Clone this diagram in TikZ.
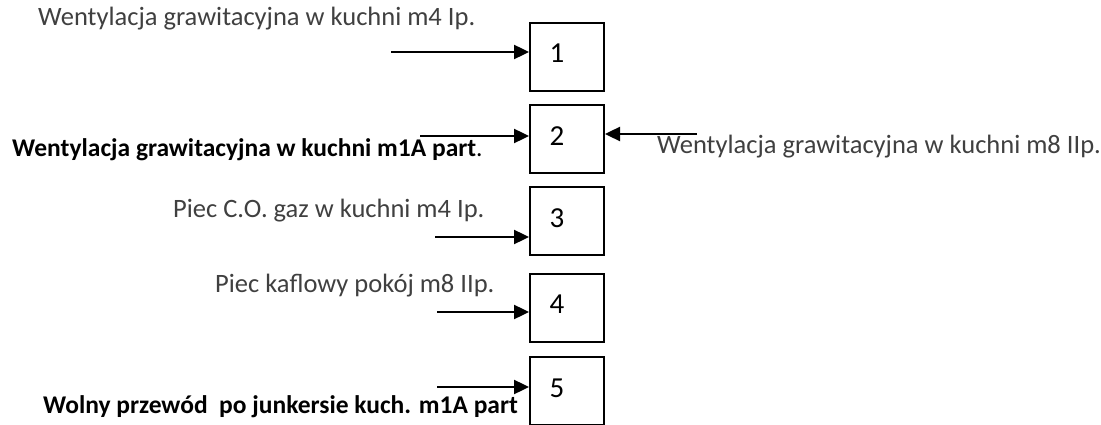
\documentclass[tikz,border=0pt]{standalone}
\usepackage{fontspec}
\setmainfont{Carlito}
\usetikzlibrary{arrows.meta}
\begin{document}
\begin{tikzpicture}[x=1pt,y=-1pt,
  box/.style={draw=black, line width=2pt, minimum width=74pt, minimum height=68pt, inner sep=0pt},
  num/.style={font=\fontsize{29}{31}\selectfont},
  thin/.style={font=\fontsize{26.5}{29}\selectfont, text=black!75, inner sep=0pt},
  heavy/.style={font=\fontsize{25.5}{28}\selectfont\bfseries, text=black, inner sep=0pt},
  conn/.style={line width=2.4pt, -{Triangle[length=15pt,width=14pt]}}]
\useasboundingbox (0,0) rectangle (1101,425);
\fill[white] (0,0) rectangle (1101,425);
% boxes
\node[box, label={[num, xshift=-10pt, yshift=4pt]center:1}] (b1) at (567,57.5) {};
\node[box, label={[num, xshift=-10pt, yshift=3pt]center:2}] (b2) at (567,139) {};
\node[box, label={[num, xshift=-10pt, yshift=3pt]center:3}] (b3) at (567,221) {};
\node[box, label={[num, xshift=-10pt, yshift=4pt]center:4}] (b4) at (567,308) {};
\node[box, label={[num, xshift=-10pt, yshift=3pt]center:5}] (b5) at (567,391) {};
% texts
\node[thin, anchor=base west] (t1) at (38,26) {Wentylacja grawitacyjna w kuchni m4 Ip.};
\node[heavy, anchor=base west] (t2) at (12,157) {Wentylacja grawitacyjna w kuchni m1A part\textmd{.}};
\node[thin, anchor=base west] (t2r) at (657,154) {Wentylacja grawitacyjna w kuchni m8 IIp.};
\node[thin, anchor=base west] (t3) at (173,218) {Piec C.O. gaz w kuchni m4 Ip.};
\node[thin, anchor=base west] (t4) at (215,292) {Piec kaflowy pokój m8 IIp.};
\node[heavy, anchor=base west] (t5) at (43,413) {Wolny przewód\ \ po junkersie kuch. m1A part};
% arrow start points
\coordinate (s1) at (391,52);
\coordinate (s2) at (420,136);
\coordinate (s2r) at (697,134);
\coordinate (s3) at (435,237);
\coordinate (s4) at (437,312);
\coordinate (s5) at (437,387);
\draw[conn] (s1) -- (s1 -| b1.west);
\draw[conn] (s2) -- (s2 -| b2.west);
\draw[conn] (s2r) -- (s2r -| b2.east);
\draw[conn] (s3) -- (s3 -| b3.west);
\draw[conn] (s4) -- (s4 -| b4.west);
\draw[conn] (s5) -- (s5 -| b5.west);
\end{tikzpicture}
\end{document}
